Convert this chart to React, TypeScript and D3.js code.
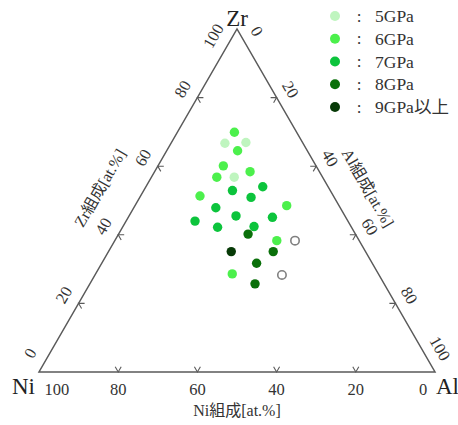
import React, { useRef, useEffect } from "react";
import * as d3 from "d3";

// pressure classes shown in the legend
const pressureLabels = ["5GPa", "6GPa", "7GPa", "8GPa", "9GPa以上"];
const pressureColors = ["#bff5bf", "#4cf04c", "#0cc43c", "#0a700a", "#073a07"];

// Zr / Al composition [at.%] of each sample, Ni is the rest
const zr5 = [66.7, 66.9, 56.8];
const al5 = [13.6, 18.8, 20.9];
const zr6 = [69.9, 64.5, 60.1, 56.8, 58.4, 51.3, 48.5, 38.3, 28.6];
const al6 = [14.4, 17.9, 16.5, 16.5, 24.1, 15.0, 38.3, 40.9, 34.5];
const zr7 = [52.9, 54.0, 50.9, 47.9, 45.5, 44.0, 45.1, 42.2, 42.4];
const al7 = [22.4, 29.5, 28.1, 20.7, 27.0, 17.4, 36.4, 24.0, 33.1];
const zr8 = [40.2, 35.1, 31.7, 25.7];
const al8 = [32.7, 41.6, 39.1, 41.7];
const zr9 = [35.1];
const al9 = [31.0];
// open circles (no legend entry)
const zrOpen = [38.3, 28.3];
const alOpen = [45.5, 47.2];

const axisTicks = [0, 20, 40, 60, 80, 100];

const serif = "'Liberation Serif', 'Noto Sans CJK JP', serif";

const App = () => {
  const svgRef = useRef<SVGSVGElement>(null);

  useEffect(() => {
    const width = 458;
    const height = 425;

    const svg = d3.select(svgRef.current);
    svg.selectAll("*").remove();
    svg.attr("width", width).attr("height", height).attr("viewBox", [0, 0, width, height]);

    // ternary projection: horizontal position from Al + Zr/2, vertical from Zr
    const xs = d3.scaleLinear().domain([0, 100]).range([39, 435]);
    const ys = d3.scaleLinear().domain([0, 100]).range([372, 29]);
    const proj = (al: number, zr: number): [number, number] => [xs(al + zr / 2), ys(zr)];

    const ni = proj(0, 0);
    const al = proj(100, 0);
    const zr = proj(0, 100);

    svg.append("path")
      .attr("d", d3.line()([ni, al, zr, ni]) + "Z")
      .attr("fill", "none")
      .attr("stroke", "#5a5a5a")
      .attr("stroke-width", 1.5)
      .attr("stroke-linejoin", "miter");

    const rad = Math.PI / 180;
    const dir = (deg: number) => [Math.cos(deg * rad), Math.sin(deg * rad)];
    const clampV = (v: number) => Math.max(3, Math.min(95.5, v));

    // each edge: point for value v, two inward tick directions, outward normal, label rotation
    const edges = [
      { pt: (v: number) => proj(100 - v, 0), d1: dir(-60), d2: dir(-120), n: [0, 1], rot: 0, off: 17 },
      { pt: (v: number) => proj(0, v), d1: dir(0), d2: dir(60), n: [-Math.sin(60 * rad), -0.5], rot: -60, off: 17 },
      { pt: (v: number) => proj(v, 100 - v), d1: dir(180), d2: dir(120), n: [Math.sin(60 * rad), -0.5], rot: 60, off: 16 },
    ];

    const tickLen = 6;
    edges.forEach((e) => {
      const g = svg.append("g");
      axisTicks.filter((t) => t > 0 && t < 100).forEach((t) => {
        const [px, py] = e.pt(t);
        g.append("path")
          .attr("d", `M${px + e.d1[0] * tickLen},${py + e.d1[1] * tickLen}L${px},${py}L${px + e.d2[0] * tickLen},${py + e.d2[1] * tickLen}`)
          .attr("fill", "none")
          .attr("stroke", "#5a5a5a")
          .attr("stroke-width", 1.1);
      });
      axisTicks.forEach((t) => {
        const [px, py] = e.pt(clampV(t));
        const lx = px + e.n[0] * e.off;
        const ly = py + e.n[1] * e.off;
        g.append("text")
          .attr("transform", `translate(${lx},${ly}) rotate(${e.rot})`)
          .attr("text-anchor", "middle")
          .attr("dominant-baseline", "central")
          .attr("font-family", serif)
          .attr("font-size", 16.5)
          .attr("fill", "#333")
          .text(t);
      });
    });

    // axis titles
    const titles = [
      { text: "Ni組成[at.%]", pos: [xs(50), 410], rot: 0 },
      { text: "Zr組成[at.%]", pos: [100, 188], rot: -60 },
      { text: "Al組成[at.%]", pos: [368, 188], rot: 60 },
    ];
    titles.forEach((t) => {
      svg.append("text")
        .attr("transform", `translate(${t.pos[0]},${t.pos[1]}) rotate(${t.rot})`)
        .attr("text-anchor", "middle")
        .attr("dominant-baseline", "central")
        .attr("font-family", serif)
        .attr("font-size", 16)
        .attr("fill", "#333")
        .text(t.text);
    });

    // vertex labels
    const vertexText = (s: string, x: number, y: number, anchor: string) =>
      svg.append("text")
        .attr("x", x).attr("y", y)
        .attr("text-anchor", anchor)
        .attr("font-family", serif)
        .attr("font-size", 23)
        .attr("fill", "#222")
        .text(s);
    vertexText("Zr", zr[0], zr[1] - 3, "middle");
    vertexText("Ni", ni[0] - 4, ni[1] + 22, "end");
    vertexText("Al", al[0] + 1, al[1] + 22, "start");

    // data points
    const series = [
      { zr: zr5, al: al5 },
      { zr: zr6, al: al6 },
      { zr: zr7, al: al7 },
      { zr: zr8, al: al8 },
      { zr: zr9, al: al9 },
    ];
    series.forEach((s, i) => {
      svg.append("g")
        .attr("fill", pressureColors[i])
        .selectAll("circle")
        .data(s.zr.map((z, j) => proj(s.al[j], z)))
        .join("circle")
        .attr("cx", (d) => d[0])
        .attr("cy", (d) => d[1])
        .attr("r", 4.7);
    });
    svg.append("g")
      .attr("fill", "#fff")
      .attr("stroke", "#808080")
      .attr("stroke-width", 1.6)
      .selectAll("circle")
      .data(zrOpen.map((z, j) => proj(alOpen[j], z)))
      .join("circle")
      .attr("cx", (d) => d[0])
      .attr("cy", (d) => d[1])
      .attr("r", 4.2);

    // legend
    const ly = d3.scalePoint().domain(pressureLabels).range([16, 107]);
    const legend = svg.append("g");
    pressureLabels.forEach((p, i) => {
      const y = ly(p) as number;
      legend.append("circle").attr("cx", 335).attr("cy", y).attr("r", 5).attr("fill", pressureColors[i]);
      legend.append("text")
        .attr("x", 359).attr("y", y)
        .attr("text-anchor", "middle")
        .attr("dominant-baseline", "central")
        .attr("font-family", serif).attr("font-size", 17).attr("fill", "#333")
        .text(":");
      legend.append("text")
        .attr("x", 375).attr("y", y)
        .attr("dominant-baseline", "central")
        .attr("font-family", serif).attr("font-size", 17.5).attr("fill", "#333")
        .text(p);
    });
  }, []);

  return (
    <svg ref={svgRef} style={{ position: "absolute", left: 0, top: 0, background: "#fff" }} />
  );
};

export default App;
